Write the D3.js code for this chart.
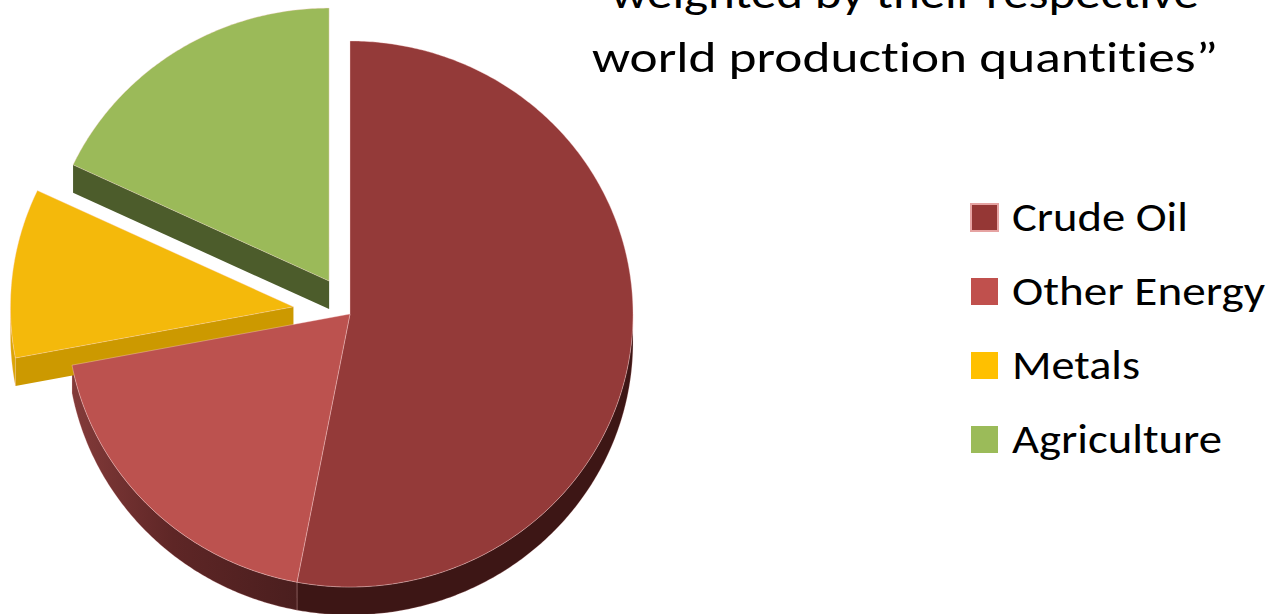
<!DOCTYPE html>
<html>
<head>
<meta charset="utf-8">
<script src="https://cdn.jsdelivr.net/npm/d3@7"></script>
<style>
  html, body { margin: 0; padding: 0; background: #ffffff; }
  svg { display: block; }
  text { font-family: Carlito, Calibri, "Open Sans", "Noto Sans", sans-serif; fill: #000; font-variant-ligatures: none; }
</style>
</head>
<body>
<script>
// ---- data ----
const categories = ["Crude Oil", "Other Energy", "Metals", "Agriculture"];
const shares = [53, 19, 10, 18];            // percent of the index weight
const titleLines = ["weighted by their respective", "world production quantities\u201d"];

// ---- styling ----
const topColors    = ["#943a39", "#bc524f", "#f4b90b", "#9bba59"];
const legendColors = ["#953735", "#c0504d", "#ffc000", "#9bbb59"];
const wallColors   = ["#3d1615", "url(#wallOther)", "#dca605", "#4f5f2c"];
const radialColors = ["#3d1615", "#6a2a2a", "#cc9900", "#4c5c2b"];
const explodeBy    = [0, 0, 57, 39];        // pixel pull-out of each slice

const W = 1279, H = 614;
const cx = 350, cy = 314, rx = 283, ry = 273, depth = 28;

const svg = d3.select("body").append("svg")
  .attr("width", W).attr("height", H)
  .attr("viewBox", `0 0 ${W} ${H}`);

const defs = svg.append("defs");
const g1 = defs.append("linearGradient").attr("id", "wallOther")
  .attr("gradientUnits", "userSpaceOnUse")
  .attr("x1", 70).attr("y1", 0).attr("x2", 300).attr("y2", 0);
g1.append("stop").attr("offset", 0).attr("stop-color", "#843b3a");
g1.append("stop").attr("offset", 0.45).attr("stop-color", "#5e2626");
g1.append("stop").attr("offset", 1).attr("stop-color", "#4a1e1e");

const arcs = d3.pie().sort(null).value(d => d)(shares);

// projected point on the tilted pie
function pt(a, ox, oy, dz) {
  return [cx + ox + rx * Math.sin(a), cy + oy - ry * Math.cos(a) + dz];
}
function arcPts(a0, a1, ox, oy, dz) {
  const n = Math.max(2, Math.ceil(Math.abs(a1 - a0) / 0.01));
  return d3.range(n + 1).map(k => pt(a0 + (a1 - a0) * k / n, ox, oy, dz));
}
const line = d3.line().curve(d3.curveLinear);

const slices = arcs.map((d, i) => {
  const mid = (d.startAngle + d.endAngle) / 2;
  return {
    i, a0: d.startAngle, a1: d.endAngle,
    ox: explodeBy[i] * Math.sin(mid),
    oy: -explodeBy[i] * Math.cos(mid)
  };
});

const sides = svg.append("g").attr("class", "sides");
const tops = svg.append("g").attr("class", "tops");
const n = slices.length;

slices.forEach(s => {
  const { i, a0, a1, ox, oy } = s;
  const c = [cx + ox, cy + oy];
  const pulled = explodeBy[i] > 0;
  const prev = (i - 1 + n) % n, next = (i + 1) % n;
  // radial wall along the start edge
  if (Math.sin(a0) < -1e-6 && (pulled || explodeBy[prev] > 0)) {
    const p = pt(a0, ox, oy, 0);
    sides.append("path")
      .attr("d", line([c, p, [p[0], p[1] + depth], [c[0], c[1] + depth]]) + "Z")
      .attr("fill", radialColors[i]);
  }
  // radial wall along the end edge
  if (Math.sin(a1) > 1e-6 && (pulled || explodeBy[next] > 0)) {
    const p = pt(a1, ox, oy, 0);
    sides.append("path")
      .attr("d", line([c, p, [p[0], p[1] + depth], [c[0], c[1] + depth]]) + "Z")
      .attr("fill", radialColors[i]);
  }
  // outer wall on the front half
  const lo = Math.max(a0, Math.PI / 2), hi = Math.min(a1, 3 * Math.PI / 2);
  if (hi > lo) {
    const pts = arcPts(lo, hi, ox, oy, 0).concat(arcPts(hi, lo, ox, oy, depth));
    sides.append("path")
      .attr("d", line(pts) + "Z")
      .attr("fill", wallColors[i])
      .attr("stroke", "rgba(255,200,200,0.35)")
      .attr("stroke-width", 0.7);
  }
  // top face
  const topPts = [c].concat(arcPts(a0, a1, ox, oy, 0));
  tops.append("path")
    .attr("d", line(topPts) + "Z")
    .attr("fill", topColors[i])
    .attr("stroke", "rgba(255,215,215,0.45)")
    .attr("stroke-width", 0.8)
    .attr("stroke-linejoin", "round");
});

// ---- title (upper lines run off the top of the page) ----
const titleY = d3.scaleLinear().domain([0, 1]).range([8, 72]);
const titleWidths = [588, 626];
svg.append("g").selectAll("text").data(titleLines).join("text")
  .attr("x", 905)
  .attr("y", (d, k) => titleY(k))
  .attr("text-anchor", "middle")
  .attr("font-size", 44)
  .attr("textLength", (d, k) => titleWidths[k])
  .attr("lengthAdjust", "spacingAndGlyphs")
  .text(d => d);

// ---- legend ----
const legY = d3.scalePoint().domain(categories).range([217.5, 439.5]);
const legWidths = [176, 253, 128, 210];
const leg = svg.append("g").selectAll("g").data(categories).join("g")
  .attr("transform", d => `translate(0,${legY(d)})`);
leg.append("rect")
  .attr("x", 971).attr("y", -13.5).attr("width", 27).attr("height", 27)
  .attr("fill", (d, k) => legendColors[k])
  .attr("stroke", (d, k) => k === 0 ? "#e6a3a2" : "none")
  .attr("stroke-width", 2);
leg.append("text")
  .attr("x", 1012).attr("y", 13)
  .attr("font-size", 40)
  .attr("textLength", (d, k) => legWidths[k])
  .attr("lengthAdjust", "spacingAndGlyphs")
  .text(d => d);
</script>
</body>
</html>
